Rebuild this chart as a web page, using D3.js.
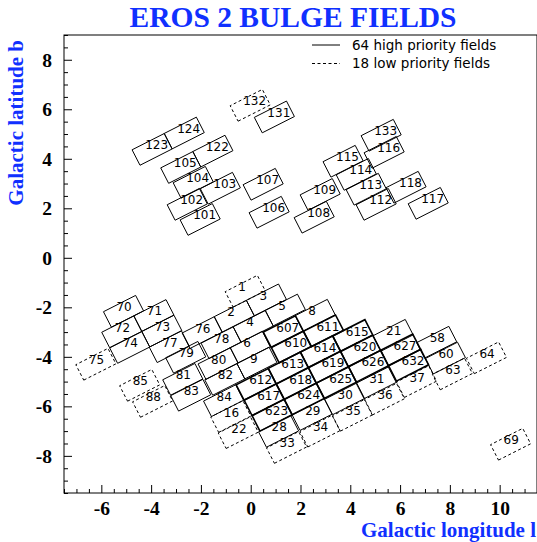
<!DOCTYPE html>
<html><head><meta charset="utf-8">
<script src="https://cdn.jsdelivr.net/npm/d3@7"></script>
<style>html,body{margin:0;padding:0;background:#fff;}</style>
</head><body>
<svg id="chart" width="537" height="542"></svg>
<script>
// ---- data ----
const fieldIds = [132,131,124,123,122,105,104,103,107,102,101,106,
  133,116,115,114,113,118,109,112,117,108,
  1,3,5,8,2,4,607,611,615,21,58,
  70,71,72,73,76,78,74,77,6,610,614,620,627,60,64,
  75,79,80,9,613,619,626,632,63,
  81,82,612,618,625,31,37,
  85,88,83,84,617,624,30,36,
  16,623,29,35,22,28,34,33,69];
const fieldL = [-0.02,0.95,-2.67,-3.96,-1.52,-2.81,-2.31,-1.22,0.50,-2.55,-2.03,0.74,
  5.24,5.36,3.71,4.24,4.64,6.24,2.79,5.04,7.13,2.55,
  -0.22,0.63,1.39,2.59,-0.66,0.10,1.31,2.92,4.10,5.72,7.47,
  -5.11,-3.89,-5.18,-3.57,-1.95,-1.19,-4.86,-3.27,-0.02,1.63,2.80,4.41,6.02,7.82,9.47,
  -6.22,-2.61,-1.31,0.25,1.51,3.12,4.73,6.34,8.10,
  -2.73,-1.04,0.22,1.83,3.44,5.04,6.66,
  -4.46,-3.94,-2.41,-1.09,0.54,2.15,3.77,5.37,
  -0.80,0.86,2.47,4.09,-0.50,1.12,2.78,1.44,10.44];
const fieldB = [6.16,5.69,5.04,4.38,4.31,3.65,3.05,2.81,2.97,2.16,1.55,1.84,
  4.95,4.26,3.90,3.37,2.77,2.85,2.56,2.16,2.20,1.64,
  -1.35,-1.70,-2.11,-2.32,-2.36,-2.77,-2.98,-2.95,-3.14,-3.13,-3.41,
  -2.16,-2.33,-2.99,-2.96,-3.02,-3.43,-3.62,-3.59,-3.61,-3.60,-3.79,-3.76,-3.72,-4.05,-4.04,
  -4.30,-4.02,-4.27,-4.25,-4.45,-4.42,-4.38,-4.34,-4.69,
  -4.91,-4.91,-5.11,-5.08,-5.04,-5.05,-5.00,
  -5.15,-5.80,-5.55,-5.77,-5.73,-5.70,-5.70,-5.71,
  -6.41,-6.36,-6.33,-6.36,-7.06,-7.01,-7.00,-7.66,-7.53];
const lowPriorityIds = [132,1,75,85,88,16,22,33,34,35,36,37,63,64,69];
const boldIds = [607,610,611,612,613,614,615,617,618,619,620,623,624,625,626,627,632];
const xTickLabels = [-6,-4,-2,0,2,4,6,8,10];
const yTickLabels = [-8,-6,-4,-2,0,2,4,6,8];
const legendLabels = ["64 high priority fields","18 low priority fields"];
const legendDash = [null,"3,2.5"];
const titleText = "EROS 2 BULGE FIELDS";
const xTitle = "Galactic longitude l";
const yTitle = "Galactic latitude b";

// ---- layout ----
const svg = d3.select("#chart");
const blue = "#1030ff";
const pL = 64, pR = 537, pT = 35, pB = 493;
const x = d3.scaleLinear().domain([-7.5, 11.5]).range([pL, pR]);
const y = d3.scaleLinear().domain([-9.5, 9]).range([pB, pT]);

svg.append("rect").attr("x", pL).attr("y", pT)
  .attr("width", pR - pL).attr("height", pB - pT)
  .attr("fill", "none").attr("stroke", "#000").attr("stroke-width", 1);

const minorX = d3.range(-7.5, 11.51, 0.5).filter(v => xTickLabels.indexOf(v) < 0);
const minorY = d3.range(-9.5, 9.01, 0.5).filter(v => yTickLabels.indexOf(v) < 0);
const tickFont = "'Liberation Serif','Times New Roman',serif";

const gx = svg.append("g").attr("transform", `translate(0,${pB})`);
gx.call(d3.axisBottom(x).tickValues(minorX).tickSize(-4).tickFormat(""));
const gxM = svg.append("g").attr("transform", `translate(0,${pB})`);
gxM.call(d3.axisBottom(x).tickValues(xTickLabels).tickSize(-8).tickPadding(8.5).tickFormat(d3.format("d")));
const gy = svg.append("g").attr("transform", `translate(${pL},0)`);
gy.call(d3.axisLeft(y).tickValues(minorY).tickSize(-4).tickFormat(""));
const gyM = svg.append("g").attr("transform", `translate(${pL},0)`);
gyM.call(d3.axisLeft(y).tickValues(yTickLabels).tickSize(-8).tickPadding(12).tickFormat(d3.format("d")));
[gx, gxM, gy, gyM].forEach(g => {
  g.select(".domain").remove();
  g.selectAll("line").attr("stroke", "#000").attr("stroke-width", 1);
  g.selectAll("text").attr("font-family", tickFont).attr("font-weight", "bold")
    .attr("font-size", 19.5).attr("fill", "#000")
    .text(function(){ return d3.select(this).text().replace("\u2212","-"); });
});

const fw = 1.45, fh = 0.70, theta = 27 * Math.PI / 180;
const ux = Math.cos(theta), uy = Math.sin(theta);
const vx = -Math.sin(theta), vy = Math.cos(theta);
const fields = fieldIds.map((id, i) => ({id, l: fieldL[i], b: fieldB[i],
  low: lowPriorityIds.indexOf(id) >= 0, bold: boldIds.indexOf(id) >= 0}));
function corners(f) {
  return [[-1,-1],[1,-1],[1,1],[-1,1]].map(([a, c]) => [
    x(f.l + a * fw / 2 * ux + c * fh / 2 * vx),
    y(f.b + a * fw / 2 * uy + c * fh / 2 * vy)]);
}
const line = d3.line().curve(d3.curveLinearClosed);
const gf = svg.append("g");
fields.slice().sort((a, b) => (a.bold - b.bold) || (b.low - a.low)).forEach(f => {
  gf.append("path").attr("d", line(corners(f)))
    .attr("fill", "none").attr("stroke", "#000")
    .attr("stroke-width", f.bold ? 1.6 : 1)
    .attr("stroke-dasharray", f.low ? "3,2.5" : null);
});
gf.selectAll("text.lab").data(fields).join("text").attr("class", "lab")
  .attr("x", d => x(d.l) - 7).attr("y", d => y(d.b))
  .attr("text-anchor", "start")
  .attr("font-family", "'DejaVu Sans',sans-serif").attr("font-size", 12)
  .attr("fill", "#000").text(d => d.id);

const lg = svg.append("g");
legendLabels.forEach((t, i) => {
  const ly = 45 + i * 18.5;
  lg.append("line").attr("x1", 312).attr("x2", 340).attr("y1", ly).attr("y2", ly)
    .attr("stroke", "#000").attr("stroke-width", 1).attr("stroke-dasharray", legendDash[i]);
  lg.append("text").attr("x", 352).attr("y", ly).attr("dy", "0.36em")
    .attr("font-family", "'DejaVu Sans',sans-serif").attr("font-size", 13.5)
    .attr("fill", "#000").text(t);
});

svg.append("text").attr("x", 293).attr("y", 27).attr("text-anchor", "middle")
  .attr("font-family", tickFont).attr("font-weight", "bold").attr("font-size", 29.5)
  .attr("fill", blue).text(titleText);
svg.append("text").attr("x", 536).attr("y", 537).attr("text-anchor", "end")
  .attr("font-family", tickFont).attr("font-weight", "bold").attr("font-size", 21)
  .attr("fill", blue).text(xTitle);
svg.append("text").attr("transform", "translate(23,40) rotate(-90)").attr("text-anchor", "end")
  .attr("font-family", tickFont).attr("font-weight", "bold").attr("font-size", 21)
  .attr("fill", blue).text(yTitle);
</script>
</body></html>
